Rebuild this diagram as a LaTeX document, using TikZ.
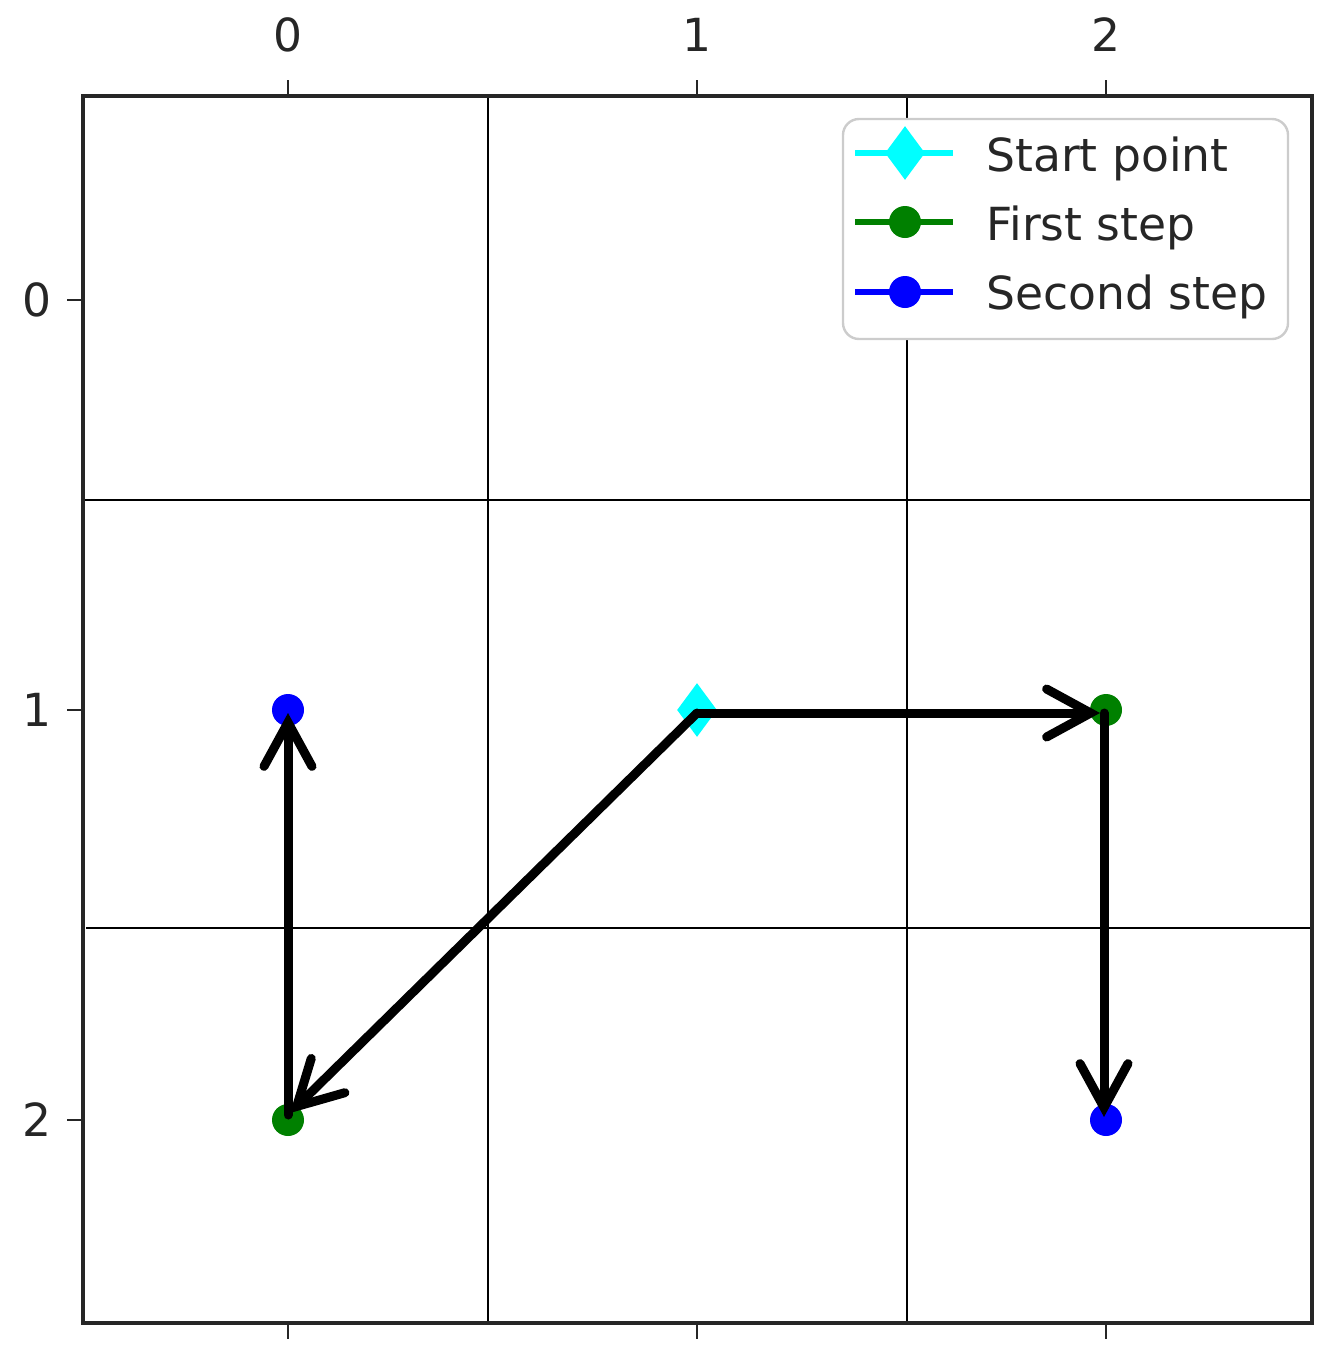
\documentclass[tikz,border=0pt]{standalone}
\usepackage{fontspec}
\setmainfont{DejaVu Sans}
\usetikzlibrary{arrows.meta,shapes.geometric}
\definecolor{mcyan}{RGB}{0,255,255}
\definecolor{mgreen}{RGB}{0,128,0}
\definecolor{mblue}{RGB}{0,0,255}
\definecolor{legframe}{RGB}{204,204,204}
\tikzset{
  gridline/.style={line width=1pt, black},
  frameline/.style={line width=1.6pt, black!85},
  tickline/.style={line width=1.2pt, black!85},
  ticklabel/.style={font=\fontsize{22.8}{27}\selectfont, text=black!85, inner sep=0pt},
  dot/.style={circle, fill=#1, draw=none, inner sep=0pt, minimum size=16pt},
  startmark/.style={diamond, fill=mcyan, draw=none, inner sep=0pt, minimum width=20pt, minimum height=27pt},
  legline/.style={line width=3pt, #1},
  legtext/.style={font=\fontsize{22.8}{27}\selectfont, text=black!85, inner sep=0pt, anchor=base west},
  steparrow/.style={line width=4.5pt, line cap=round, black, -{Straight Barb[length=22pt,width=24pt,line cap=round]}}
}
\begin{document}
\begin{tikzpicture}[x=0.5pt,y=-0.5pt]
\useasboundingbox (0,0) rectangle (1344,1371);
% grid
\draw[gridline] (488,96) -- (488,1323);
\draw[gridline] (907,96) -- (907,1323);
\draw[gridline] (83,500) -- (1312,500);
\draw[gridline] (86,928) -- (1312,928);
% frame
\draw[frameline] (83,96) rectangle (1312,1323);
% ticks
\foreach \x/\l in {288/0,697/1,1106/2}{
  \draw[tickline] (\x,96) -- (\x,80);
  \draw[tickline] (\x,1323) -- (\x,1339);
  \node[ticklabel, anchor=base] (xt\l) at (\x,51) {\l};
}
\foreach \y/\l in {300/0,710/1,1120/2}{
  \draw[tickline] (83,\y) -- (67,\y);
  \node[ticklabel, anchor=base] (yt\l) at (37,\y+16) {\l};
}
% markers
\node[dot=mblue] (b1) at (288,710) {};
\node[dot=mgreen] (f1) at (1106,710) {};
\node[startmark] (s) at (697,710) {};
\node[dot=mgreen] (f2) at (288,1120) {};
\node[dot=mblue] (b2) at (1106,1120) {};
% arrow end points
\coordinate (sa) at (697,713);
\coordinate (f1in) at (1100,713);
\coordinate (f1out) at (1104,713);
\coordinate (b2in) at (1104,1117);
\coordinate (f2in) at (290,1113);
\coordinate (f2out) at (288,1115);
\coordinate (b1in) at (288,713);
\draw[steparrow] (sa) -- (f1in);
\draw[steparrow] (f1out) -- (b2in);
\draw[steparrow] (sa) -- (f2in);
\draw[steparrow] (f2out) -- (b1in);
% legend
\node[draw=legframe, line width=1.2pt, fill=white, rounded corners=8pt, minimum width=222.5pt, minimum height=110pt, inner sep=0pt] (leg) at (1065.5,229) {};
\draw[legline=mcyan] (855,153) -- (953,153);
\node[startmark] (ls) at (905,153) {};
\node[legtext] (lt1) at (986,171) {Start point};
\draw[legline=mgreen] (855,222) -- (953,222);
\node[dot=mgreen] (lf) at (905,222) {};
\node[legtext] (lt2) at (986,240) {First step};
\draw[legline=mblue] (855,292) -- (953,292);
\node[dot=mblue] (lb) at (905,292) {};
\node[legtext] (lt3) at (986,309) {Second step};
\end{tikzpicture}
\end{document}
